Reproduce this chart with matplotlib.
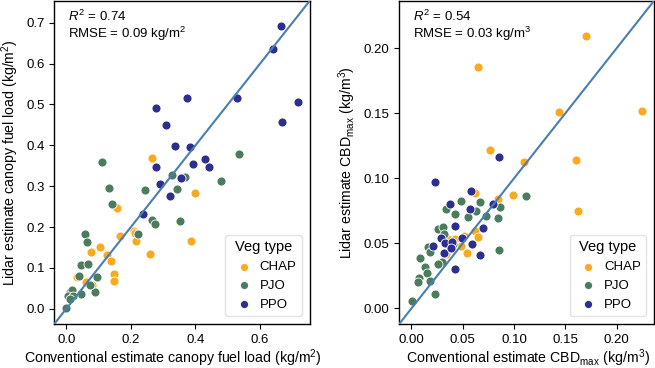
import numpy as np
import matplotlib
matplotlib.use("Agg")
import matplotlib.pyplot as plt

plt.rcParams['font.family'] = ['Liberation Sans', 'DejaVu Sans']
plt.rcParams['mathtext.fontset'] = 'custom'
plt.rcParams['mathtext.rm'] = 'Liberation Sans'
plt.rcParams['mathtext.it'] = 'Liberation Sans:italic'

veg_types = ['CHAP', 'PJO', 'PPO']
colors = {'CHAP': '#FBAA1F', 'PJO': '#4B7C5D', 'PPO': '#2D2E8E'}

# canopy fuel load (kg/m2): conventional x, lidar y
cfl_chap_x = [0.265, 0.156, 0.397, 0.165, 0.104, 0.077, 0.210, 0.214, 0.216, 0.386,
              0.259, 0.126, 0.137, 0.148, 0.147, 0.033, 0.061, 0.078]
cfl_chap_y = [0.370, 0.247, 0.284, 0.179, 0.151, 0.139, 0.191, 0.186, 0.165, 0.167,
              0.133, 0.131, 0.117, 0.084, 0.069, 0.078, 0.066, 0.059]
cfl_pjo_x = [0.111, 0.536, 0.327, 0.368, 0.480, 0.132, 0.245, 0.344, 0.140, 0.265,
             0.274, 0.352, 0.058, 0.065, 0.223, 0.044, 0.067, 0.040, 0.095, 0.088,
             0.044, 0.011, 0.018, 0.006, 0.021, 0.010, 0.000, 0.072]
cfl_pjo_y = [0.359, 0.380, 0.328, 0.322, 0.312, 0.296, 0.290, 0.294, 0.257, 0.218,
             0.208, 0.215, 0.184, 0.164, 0.184, 0.106, 0.110, 0.080, 0.077, 0.041,
             0.036, 0.040, 0.045, 0.032, 0.031, 0.025, 0.002, 0.059]
cfl_ppo_x = [0.665, 0.639, 0.529, 0.373, 0.279, 0.309, 0.716, 0.668, 0.335, 0.383,
             0.428, 0.393, 0.441, 0.278, 0.355, 0.291, 0.322, 0.239]
cfl_ppo_y = [0.693, 0.636, 0.517, 0.516, 0.491, 0.451, 0.505, 0.456, 0.399, 0.396,
             0.367, 0.355, 0.347, 0.347, 0.321, 0.305, 0.277, 0.232]

# max canopy bulk density (kg/m3): conventional x, lidar y
cbd_chap_x = [0.0649, 0.170, 0.144, 0.225, 0.0766, 0.160, 0.1097, 0.1627, 0.0994, 0.0617,
              0.0844, 0.062, 0.0357, 0.0425, 0.0516, 0.0649, 0.0487, 0.0546, 0.0334]
cbd_chap_y = [0.1853, 0.2095, 0.1508, 0.1515, 0.122, 0.1139, 0.1124, 0.0752, 0.0869, 0.0887,
              0.0838, 0.0599, 0.0531, 0.0536, 0.0556, 0.0546, 0.048, 0.0424, 0.0416]
cbd_pjo_x = [0.1114, 0.048, 0.0672, 0.0334, 0.0633, 0.0864, 0.0429, 0.0552, 0.0724, 0.0844,
             0.026, 0.0308, 0.0315, 0.0405, 0.0166, 0.0185, 0.0858, 0.0084, 0.0302, 0.026,
             0.013, 0.0152, 0.0074, 0.0064, 0.0178, 0.0229, 0.0006]
cbd_pjo_y = [0.0866, 0.0826, 0.0818, 0.0762, 0.0749, 0.078, 0.0724, 0.0704, 0.0711, 0.0698,
             0.0609, 0.0624, 0.0576, 0.0495, 0.0475, 0.0431, 0.0452, 0.0388, 0.0357, 0.034,
             0.0317, 0.0271, 0.0233, 0.020, 0.0208, 0.0113, 0.0057]
cbd_ppo_x = [0.0854, 0.0227, 0.0585, 0.038, 0.0795, 0.0571, 0.0422, 0.0702, 0.0289, 0.0497,
             0.0327, 0.0393, 0.0591, 0.0214, 0.0315, 0.0666, 0.0429, 0.0383]
cbd_ppo_y = [0.1166, 0.0971, 0.0902, 0.0805, 0.0805, 0.0762, 0.0635, 0.0622, 0.054, 0.054,
             0.0502, 0.0513, 0.0492, 0.048, 0.0429, 0.0408, 0.0304, 0.0464]

cfl = {'CHAP': (cfl_chap_x, cfl_chap_y), 'PJO': (cfl_pjo_x, cfl_pjo_y), 'PPO': (cfl_ppo_x, cfl_ppo_y)}
cbd = {'CHAP': (cbd_chap_x, cbd_chap_y), 'PJO': (cbd_pjo_x, cbd_pjo_y), 'PPO': (cbd_ppo_x, cbd_ppo_y)}

fig = plt.figure(figsize=(6.55, 3.68), dpi=100)
ax1 = fig.add_axes([0.083, 0.12, 0.390, 0.878])
ax2 = fig.add_axes([0.6096, 0.12, 0.389, 0.878])


def panel(ax, data, lims, xticks, yticks, fmt, r2, rmse_txt, xlabel, ylabel, xlab_x):
    for v in veg_types:
        x, y = data[v]
        ax.scatter(x, y, s=42, color=colors[v], edgecolor='white', linewidth=0.6,
                   label=v, zorder=3)
    ax.plot(lims, lims, color='#4A7FAD', lw=1.5, zorder=4)
    ax.set_xlim(lims)
    ax.set_ylim(lims)
    ax.set_xticks(xticks)
    ax.set_yticks(yticks)
    ax.set_xticklabels([fmt.format(t) for t in xticks])
    ax.set_yticklabels([fmt.format(t) for t in yticks])
    ax.tick_params(labelsize=9.5, length=3.5, width=0.8)
    ax.tick_params(axis='x', pad=4)
    for s in ax.spines.values():
        s.set_linewidth(1.0)
    ax.set_xlabel(xlabel, fontsize=10.2)
    ax.xaxis.set_label_coords(xlab_x, -0.074)
    ax.set_ylabel(ylabel, fontsize=10.2, labelpad=4)
    ax.text(0.053, 0.936, '$R^2$ = ' + r2, transform=ax.transAxes,
            ha='left', va='baseline', fontsize=9.5)
    ax.text(0.053, 0.886, rmse_txt, transform=ax.transAxes,
            ha='left', va='baseline', fontsize=9.5)
    leg = ax.legend(title='Veg type', loc='lower right', fontsize=9.5, title_fontsize=10.5,
                    handletextpad=0.2, borderaxespad=0.6, markerscale=0.9,
                    frameon=True, fancybox=True, labelspacing=0.5)
    leg.get_frame().set_edgecolor('#DDDDDD')


panel(ax1, cfl, (-0.037, 0.754), [0.0, 0.2, 0.4, 0.6],
      [0.0, 0.1, 0.2, 0.3, 0.4, 0.5, 0.6, 0.7], '{:.1f}', '0.74',
      'RMSE = 0.09 kg/m$^2$',
      'Conventional estimate canopy fuel load (kg/m$^2$)',
      'Lidar estimate canopy fuel load (kg/m$^2$)', 0.462)

panel(ax2, cbd, (-0.0118, 0.2365), [0.0, 0.05, 0.10, 0.15, 0.20],
      [0.0, 0.05, 0.10, 0.15, 0.20], '{:.2f}', '0.54',
      'RMSE = 0.03 kg/m$^3$',
      'Conventional estimate CBD$_\\mathrm{max}$ (kg/m$^3$)',
      'Lidar estimate CBD$_\\mathrm{max}$ (kg/m$^3$)', 0.505)

fig.savefig('out.png', dpi=100)
